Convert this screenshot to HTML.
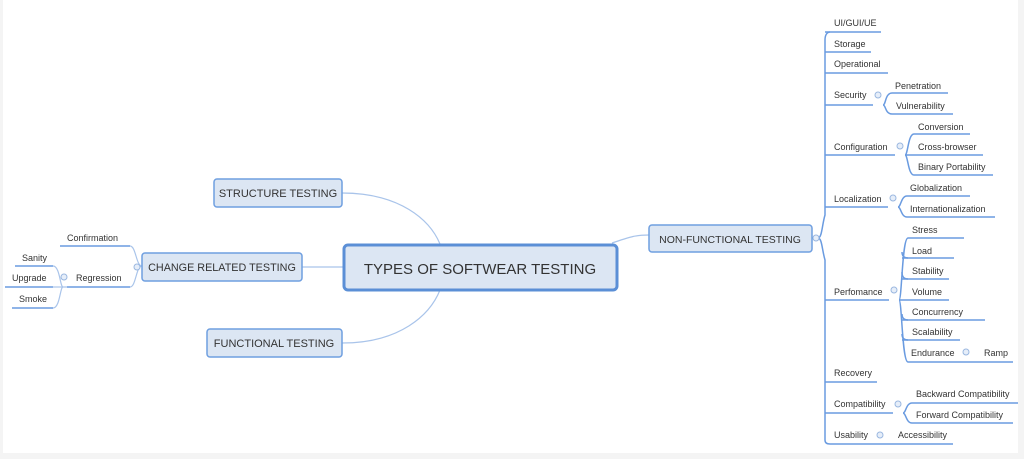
<!DOCTYPE html>
<html><head><meta charset="utf-8"><style>
html,body{margin:0;padding:0;background:#f4f4f4}
svg{display:block}
text{font-family:"Liberation Sans",sans-serif;fill:#333}
.s{font-size:9px}
</style></head><body>
<svg width="1024" height="459" viewBox="0 0 1024 459" xmlns="http://www.w3.org/2000/svg">
<rect x="3" y="0" width="1015" height="453" fill="#fff"/>
<g fill="none" stroke="#a9c4ea" stroke-width="1.2">
<path d="M342 193 C400 193 430 220 440 244"/>
<path d="M342 343 C400 343 430 315 440 290"/>
<path d="M302 267 L343 267"/>
<path d="M612 243 C630 237 635 235 649 235"/>
<path d="M142 266 C136 266 136 246 130 246"/>
<path d="M142 266 C136 266 136 287 130 287"/>
<path d="M67 287 L63 287 C60 287 60 266 53 266"/>
<path d="M63 287 L53 287"/>
<path d="M63 287 C60 287 60 308 53 308"/>
</g>
<g fill="none" stroke="#6a9be0" stroke-width="1.5">
<path d="M812 238 L818 238"/>
<path d="M818 238 C822 238 822 225 825 215 L825 40 C825 35 827 32 830 32"/>
<path d="M818 238 C822 238 822 250 825 260 L825 440 C825 443 827 444 830 444"/>
<path d="M825 52 L871 52 M825 32 L881 32 M825 73 L888 73 M825 105 L873 105 M825 155 L895 155 M825 207 L888 207 M825 300 L889 300 M825 382 L877 382 M825 413 L893 413 M830 444 L876 444"/>
<path d="M883 105 C886 105 885 93 892 93 L948 93 M883 105 C886 105 885 114 892 114 L953 114"/>
<path d="M905 155 C908 155 908 134 914 134 L970 134 M905 155 L983 155 M905 155 C908 155 908 175 914 175 L993 175"/>
<path d="M898 207 C901 207 901 196 907 196 L970 196 M898 207 C901 207 901 217 907 217 L995 217"/>
<path d="M899 300 C902 300 902 238 908 238 L964 238 M902 258 L954 258 M902 279 L949 279 M899 300 L949 300 M902 320 L985 320 M902 340 L960 340 M899 300 C902 300 902 362 908 362 L962 362"/>
<path d="M902 252 C902 256 904 258 908 258 M902 272 C902 277 904 279 908 279 M902 314 C902 318 904 320 908 320 M902 334 C902 338 904 340 908 340"/>
<path d="M962 362 L1013 362 M903 413 C906 413 906 403 912 403 L1018 403 M903 413 C906 413 906 423 912 423 L1013 423 M876 444 L953 444"/>
<path d="M130 246 L60 246 M130 287 L67 287 M53 266 L15 266 M53 287 L5 287 M53 308 L12 308"/>
</g>
<g fill="#e6eef9" stroke="#9ab7e0" stroke-width="1">
<circle cx="816" cy="238" r="3"/><circle cx="878" cy="95" r="3"/><circle cx="900" cy="146" r="3"/><circle cx="893" cy="198" r="3"/><circle cx="894" cy="290" r="3"/><circle cx="966" cy="352" r="3"/><circle cx="898" cy="404" r="3"/><circle cx="880" cy="435" r="3"/><circle cx="137" cy="267" r="3"/><circle cx="64" cy="277" r="3"/>
</g>
<g fill="#dce6f3" stroke="#6f9fe0" stroke-width="1.5">
<rect x="214" y="179" width="128" height="28" rx="3"/>
<rect x="142" y="253" width="160" height="28" rx="3"/>
<rect x="207" y="329" width="135" height="28" rx="3"/>
<rect x="649" y="225" width="163" height="27" rx="3"/>
<rect x="344" y="245" width="273" height="45" rx="4" stroke-width="3" stroke="#5b8fd6"/>
</g>
<g style="fill:#3f4f68">
<text x="278" y="197" font-size="11" text-anchor="middle">STRUCTURE TESTING</text>
<text x="222" y="271" font-size="10.8" text-anchor="middle">CHANGE RELATED TESTING</text>
<text x="274" y="347" font-size="11" text-anchor="middle">FUNCTIONAL TESTING</text>
<text x="730" y="243" font-size="10.5" text-anchor="middle">NON-FUNCTIONAL TESTING</text>
<text x="480" y="274" font-size="15" text-anchor="middle">TYPES OF SOFTWEAR TESTING</text>
</g>
<g class="s">
<text x="834" y="26">UI/GUI/UE</text>
<text x="834" y="47">Storage</text>
<text x="834" y="67">Operational</text>
<text x="834" y="98">Security</text>
<text x="895" y="89">Penetration</text>
<text x="896" y="109">Vulnerability</text>
<text x="834" y="150">Configuration</text>
<text x="918" y="130">Conversion</text>
<text x="918" y="150">Cross-browser</text>
<text x="918" y="170">Binary Portability</text>
<text x="834" y="202">Localization</text>
<text x="910" y="191">Globalization</text>
<text x="910" y="212">Internationalization</text>
<text x="834" y="295">Perfomance</text>
<text x="912" y="233">Stress</text>
<text x="912" y="254">Load</text>
<text x="912" y="274">Stability</text>
<text x="912" y="295">Volume</text>
<text x="912" y="315">Concurrency</text>
<text x="912" y="335">Scalability</text>
<text x="911" y="356">Endurance</text>
<text x="984" y="356">Ramp</text>
<text x="834" y="376">Recovery</text>
<text x="834" y="407">Compatibility</text>
<text x="916" y="397">Backward Compatibility</text>
<text x="916" y="418">Forward Compatibility</text>
<text x="834" y="438">Usability</text>
<text x="898" y="438">Accessibility</text>
<text x="67" y="241">Confirmation</text>
<text x="76" y="281">Regression</text>
<text x="22" y="261">Sanity</text>
<text x="12" y="281">Upgrade</text>
<text x="19" y="302">Smoke</text>
</g>
</svg>
</body></html>
